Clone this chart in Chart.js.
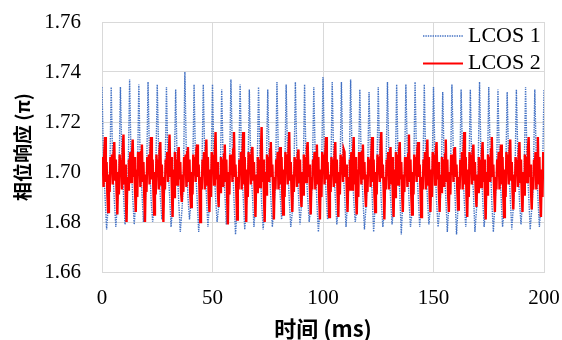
<!DOCTYPE html>
<html>
<head>
<meta charset="utf-8">
<script src="https://cdn.jsdelivr.net/npm/chart.js@4.4.1/dist/chart.umd.min.js"></script>
<style>
  html, body { margin: 0; padding: 0; background: #ffffff; }
  #wrap { width: 562px; height: 340px; }
</style>
</head>
<body>
<div id="wrap"><canvas id="c" width="562" height="340"></canvas></div>
<script>
// ---- data ----
const seriesNames = ['LCOS 1', 'LCOS 2'];
const xTicks = [0, 50, 100, 150, 200];
const yTicks = [1.66, 1.68, 1.70, 1.72, 1.74, 1.76];
const stepLcos1 = 200 / 288; // ms between LCOS 1 samples
const stepLcos2 = 200 / 576; // ms between LCOS 2 samples

// LCOS 1 (blue dotted), 6 samples per oscillation period
const lcos1 = [
  1.734,1.704,1.690,1.677,1.686,1.696,
  1.734,1.702,1.689,1.678,1.687,1.695,
  1.734,1.705,1.691,1.679,1.685,1.697,
  1.737,1.703,1.690,1.679,1.688,1.694,
  1.735,1.701,1.692,1.680,1.686,1.696,
  1.736,1.704,1.689,1.680,1.687,1.698,
  1.735,1.706,1.690,1.681,1.685,1.695,
  1.734,1.702,1.691,1.678,1.686,1.697,
  1.733,1.703,1.688,1.676,1.684,1.694,
  1.740,1.705,1.690,1.681,1.688,1.696,
  1.735,1.701,1.689,1.676,1.685,1.697,
  1.735,1.704,1.691,1.678,1.687,1.695,
  1.735,1.703,1.690,1.680,1.686,1.696,
  1.733,1.702,1.692,1.679,1.688,1.694,
  1.737,1.706,1.689,1.675,1.685,1.697,
  1.735,1.703,1.690,1.677,1.686,1.695,
  1.733,1.701,1.691,1.678,1.687,1.696,
  1.734,1.705,1.688,1.677,1.685,1.698,
  1.733,1.702,1.690,1.678,1.686,1.694,
  1.736,1.704,1.692,1.681,1.688,1.696,
  1.735,1.703,1.689,1.678,1.684,1.697,
  1.736,1.705,1.691,1.679,1.687,1.695,
  1.735,1.702,1.690,1.680,1.686,1.696,
  1.734,1.704,1.688,1.676,1.685,1.697,
  1.738,1.706,1.691,1.681,1.687,1.694,
  1.736,1.703,1.690,1.679,1.686,1.696,
  1.736,1.701,1.692,1.678,1.688,1.695,
  1.737,1.704,1.689,1.680,1.685,1.697,
  1.733,1.702,1.690,1.677,1.686,1.696,
  1.732,1.705,1.691,1.676,1.687,1.694,
  1.734,1.703,1.688,1.678,1.685,1.698,
  1.736,1.704,1.690,1.679,1.686,1.695,
  1.735,1.702,1.692,1.675,1.688,1.696,
  1.735,1.706,1.689,1.678,1.684,1.697,
  1.736,1.703,1.691,1.678,1.687,1.695,
  1.735,1.701,1.690,1.679,1.686,1.696,
  1.734,1.704,1.688,1.678,1.685,1.694,
  1.732,1.702,1.690,1.676,1.687,1.697,
  1.735,1.705,1.691,1.675,1.686,1.695,
  1.733,1.703,1.689,1.678,1.688,1.696,
  1.733,1.701,1.692,1.676,1.685,1.698,
  1.736,1.704,1.690,1.678,1.686,1.694,
  1.734,1.706,1.688,1.676,1.687,1.696,
  1.733,1.702,1.691,1.678,1.685,1.697,
  1.732,1.703,1.690,1.677,1.686,1.695,
  1.733,1.705,1.689,1.679,1.688,1.696,
  1.734,1.702,1.691,1.677,1.685,1.694,
  1.733,1.704,1.690,1.678,1.687,1.697,
  1.733
];

// LCOS 2 (red solid), 12 samples per oscillation period
const lcos2 = [
  1.700,1.706,1.694,1.708,1.714,1.696,1.704,1.691,1.684,1.699,1.692,1.706,
  1.701,1.707,1.695,1.707,1.712,1.697,1.705,1.692,1.683,1.700,1.691,1.707,
  1.699,1.705,1.693,1.709,1.715,1.695,1.703,1.690,1.680,1.698,1.693,1.705,
  1.702,1.708,1.696,1.706,1.713,1.698,1.706,1.693,1.684,1.701,1.690,1.708,
  1.700,1.706,1.694,1.708,1.711,1.696,1.704,1.691,1.680,1.699,1.692,1.706,
  1.701,1.707,1.695,1.707,1.714,1.697,1.705,1.692,1.683,1.700,1.691,1.707,
  1.699,1.705,1.693,1.709,1.712,1.695,1.703,1.690,1.680,1.698,1.693,1.705,
  1.702,1.708,1.696,1.706,1.715,1.698,1.706,1.693,1.682,1.701,1.690,1.708,
  1.700,1.705,1.695,1.707,1.710,1.697,1.704,1.692,1.688,1.699,1.692,1.706,
  1.701,1.707,1.694,1.708,1.710,1.696,1.705,1.691,1.686,1.700,1.691,1.707,
  1.699,1.706,1.696,1.709,1.711,1.698,1.703,1.693,1.680,1.698,1.693,1.705,
  1.702,1.708,1.693,1.706,1.713,1.695,1.706,1.690,1.684,1.701,1.690,1.708,
  1.700,1.707,1.695,1.708,1.716,1.697,1.704,1.692,1.686,1.699,1.692,1.706,
  1.701,1.705,1.694,1.707,1.711,1.696,1.705,1.691,1.679,1.700,1.691,1.707,
  1.699,1.706,1.696,1.709,1.716,1.698,1.703,1.693,1.681,1.698,1.693,1.705,
  1.702,1.708,1.693,1.706,1.716,1.695,1.706,1.690,1.680,1.701,1.690,1.708,
  1.700,1.707,1.695,1.708,1.710,1.697,1.704,1.692,1.682,1.699,1.692,1.706,
  1.701,1.705,1.694,1.707,1.718,1.696,1.705,1.691,1.680,1.700,1.691,1.707,
  1.699,1.706,1.696,1.709,1.712,1.698,1.703,1.693,1.681,1.698,1.693,1.705,
  1.702,1.708,1.693,1.706,1.710,1.695,1.706,1.690,1.683,1.701,1.690,1.708,
  1.700,1.707,1.695,1.708,1.716,1.697,1.704,1.692,1.684,1.699,1.692,1.706,
  1.701,1.705,1.694,1.707,1.709,1.696,1.705,1.691,1.686,1.700,1.691,1.707,
  1.699,1.706,1.696,1.709,1.712,1.698,1.703,1.693,1.683,1.698,1.693,1.705,
  1.702,1.708,1.693,1.706,1.711,1.695,1.706,1.690,1.681,1.701,1.690,1.708,
  1.700,1.707,1.695,1.708,1.714,1.697,1.704,1.692,1.682,1.699,1.692,1.706,
  1.701,1.705,1.694,1.707,1.712,1.696,1.705,1.691,1.682,1.700,1.691,1.707,
  1.699,1.706,1.696,1.709,1.708,1.698,1.703,1.693,1.684,1.698,1.693,1.705,
  1.702,1.708,1.693,1.706,1.714,1.695,1.706,1.690,1.683,1.701,1.690,1.708,
  1.700,1.707,1.695,1.708,1.711,1.697,1.704,1.692,1.686,1.699,1.692,1.706,
  1.701,1.705,1.694,1.707,1.714,1.696,1.705,1.691,1.684,1.700,1.691,1.707,
  1.699,1.706,1.696,1.709,1.716,1.698,1.703,1.693,1.681,1.698,1.693,1.705,
  1.702,1.708,1.693,1.706,1.710,1.695,1.706,1.690,1.682,1.701,1.690,1.708,
  1.700,1.707,1.695,1.708,1.712,1.697,1.704,1.692,1.684,1.699,1.692,1.706,
  1.701,1.705,1.694,1.707,1.715,1.696,1.705,1.691,1.683,1.700,1.691,1.707,
  1.699,1.706,1.696,1.709,1.712,1.698,1.703,1.693,1.682,1.698,1.693,1.705,
  1.702,1.708,1.693,1.706,1.713,1.695,1.706,1.690,1.684,1.701,1.690,1.708,
  1.700,1.707,1.695,1.708,1.712,1.697,1.704,1.692,1.684,1.699,1.692,1.706,
  1.701,1.705,1.694,1.707,1.713,1.696,1.705,1.691,1.684,1.700,1.691,1.707,
  1.699,1.706,1.696,1.709,1.710,1.698,1.703,1.693,1.685,1.698,1.693,1.705,
  1.702,1.708,1.693,1.706,1.716,1.695,1.706,1.690,1.682,1.701,1.690,1.708,
  1.700,1.707,1.695,1.708,1.711,1.697,1.704,1.692,1.686,1.699,1.692,1.706,
  1.701,1.705,1.694,1.707,1.712,1.696,1.705,1.691,1.681,1.700,1.691,1.707,
  1.699,1.706,1.696,1.709,1.714,1.698,1.703,1.693,1.684,1.698,1.693,1.705,
  1.702,1.708,1.693,1.706,1.711,1.695,1.706,1.690,1.682,1.701,1.690,1.708,
  1.700,1.707,1.695,1.708,1.713,1.697,1.704,1.692,1.685,1.699,1.692,1.706,
  1.701,1.705,1.694,1.707,1.712,1.696,1.705,1.691,1.684,1.700,1.691,1.707,
  1.699,1.706,1.696,1.709,1.714,1.698,1.703,1.693,1.685,1.698,1.693,1.705,
  1.702,1.708,1.693,1.706,1.714,1.695,1.706,1.690,1.682,1.701,1.690,1.708,
  1.700
];

const toPoints = (arr, step) => arr.map((v, i) => ({ x: i * step, y: v }));

// legend drawn inside the plot area, top-right (as in the reference)
const insideLegend = {
  id: 'insideLegend',
  afterDraw(chart) {
    const ctx = chart.ctx;
    const area = chart.chartArea;
    ctx.save();
    chart.data.datasets.forEach((ds, i) => {
      const y = area.top + 14 + i * 27.5;
      const x0 = area.right - 121, x1 = area.right - 81;
      ctx.beginPath();
      ctx.strokeStyle = ds.borderColor;
      ctx.lineWidth = i === 1 ? 2 : ds.borderWidth;
      ctx.setLineDash(ds.borderDash || []);
      ctx.moveTo(x0, y);
      ctx.lineTo(x1, y);
      ctx.stroke();
      ctx.setLineDash([]);
      ctx.fillStyle = '#000000';
      ctx.font = '22px "Liberation Serif", "Times New Roman", serif';
      ctx.textAlign = 'left';
      ctx.textBaseline = 'middle';
      ctx.fillText(ds.label, x1 + 5, y);
    });
    ctx.restore();
  }
};

const gridColor = '#d9d9d9';

new Chart(document.getElementById('c'), {
  type: 'line',
  data: {
    datasets: [
      {
        label: seriesNames[0],
        data: toPoints(lcos1, stepLcos1),
        borderColor: '#4472c4',
        borderWidth: 1.4,
        borderDash: [1.4, 1],
        pointRadius: 0,
        tension: 0,
        fill: false,
        order: 1
      },
      {
        label: seriesNames[1],
        data: toPoints(lcos2, stepLcos2),
        borderColor: '#ff0000',
        borderWidth: 2.4,
        pointRadius: 0,
        tension: 0,
        fill: false,
        order: 0
      }
    ]
  },
  options: {
    responsive: false,
    animation: false,
    events: [],
    layout: { padding: { top: 22, right: 18, left: 0, bottom: 0 } },
    plugins: {
      legend: { display: false },
      tooltip: { enabled: false }
    },
    scales: {
      x: {
        type: 'linear',
        min: xTicks[0],
        max: xTicks[xTicks.length - 1],
        afterBuildTicks: s => { s.ticks = xTicks.map(v => ({ value: v })); },
        afterFit: s => { s.height = 68; s.paddingLeft = 0; s.paddingRight = 0; },
        grid: { color: gridColor, drawTicks: false, lineWidth: 1 },
        border: { color: gridColor, width: 1 },
        ticks: {
          padding: 14,
          color: '#000000',
          maxRotation: 0,
          font: { family: '"Liberation Serif", "Times New Roman", serif', size: 21 },
          callback: v => String(v)
        },
        title: {
          display: true,
          text: '时间 (ms)',
          color: '#000000',
          padding: { top: 0, bottom: 0 },
          font: { family: '"Noto Sans CJK SC", "Noto Sans", sans-serif', size: 22, weight: 'bold', lineHeight: 1 }
        }
      },
      y: {
        type: 'linear',
        min: yTicks[0],
        max: yTicks[yTicks.length - 1],
        afterBuildTicks: s => { s.ticks = yTicks.map(v => ({ value: v })); },
        afterFit: s => { s.width = 102; s.paddingTop = 0; s.paddingBottom = 0; },
        grid: { color: gridColor, drawTicks: false, lineWidth: 1 },
        border: { color: gridColor, width: 1 },
        ticks: {
          padding: 21,
          color: '#000000',
          font: { family: '"Liberation Serif", "Times New Roman", serif', size: 21 },
          callback: v => Number(v).toFixed(2)
        },
        title: {
          display: true,
          text: '相位响应 (π)',
          color: '#000000',
          padding: { top: 11, bottom: 0 },
          font: { family: '"Noto Sans CJK SC", "Noto Sans", sans-serif', size: 19, weight: 'bold' }
        }
      }
    }
  },
  plugins: [insideLegend]
});
</script>
</body>
</html>
